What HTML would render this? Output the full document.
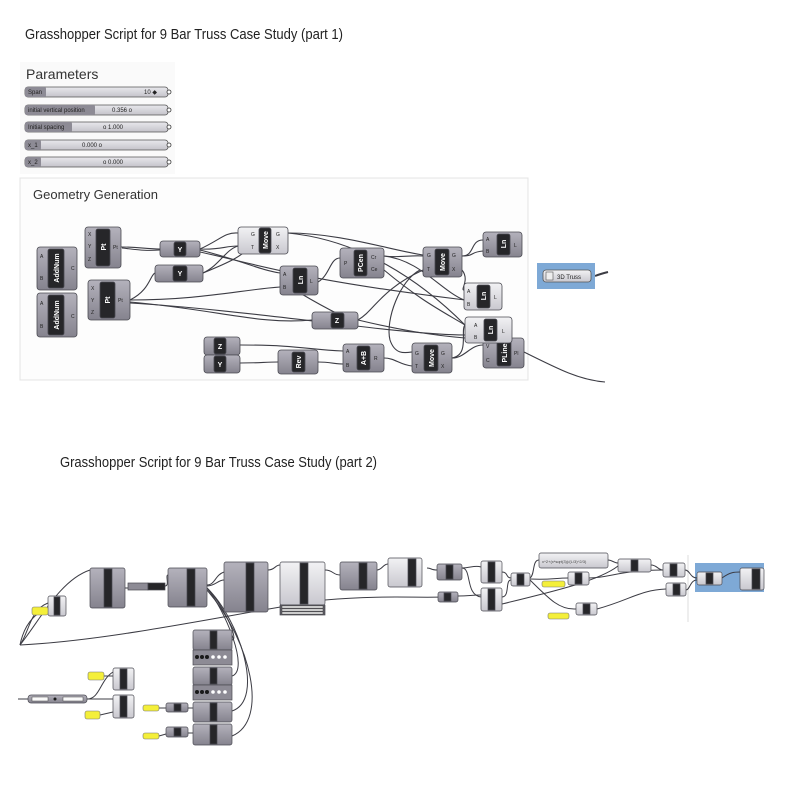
<!DOCTYPE html>
<html><head><meta charset="utf-8"><style>
html,body{margin:0;padding:0;background:#fff;}
svg{display:block;font-family:"Liberation Sans",sans-serif;}
</style></head><body>
<svg width="800" height="800" viewBox="0 0 800 800" xmlns="http://www.w3.org/2000/svg">
<defs>
<linearGradient id="ng" x1="0" y1="0" x2="0" y2="1"><stop offset="0" stop-color="#b4b2bc"/><stop offset="1" stop-color="#85838e"/></linearGradient>
<linearGradient id="lg" x1="0" y1="0" x2="0" y2="1"><stop offset="0" stop-color="#f2f2f4"/><stop offset="1" stop-color="#c9c8cf"/></linearGradient>
<linearGradient id="sg" x1="0" y1="0" x2="0" y2="1"><stop offset="0" stop-color="#e8e8ec"/><stop offset="1" stop-color="#c4c3ca"/></linearGradient>
</defs>

<!-- Titles -->
<text x="25" y="39" font-size="15" textLength="318" lengthAdjust="spacingAndGlyphs" fill="#222">Grasshopper Script for 9 Bar Truss Case Study (part 1)</text>
<text x="60" y="467" font-size="15" textLength="317" lengthAdjust="spacingAndGlyphs" fill="#222">Grasshopper Script for 9 Bar Truss Case Study (part 2)</text>

<!-- Parameters -->
<rect x="20" y="62" width="155" height="112" fill="#fafafa"/>
<text x="26" y="79" font-size="14" fill="#333">Parameters</text>
<g font-size="6" fill="#222">
<rect x="25" y="87" width="143" height="10" rx="3" fill="url(#sg)" stroke="#555" stroke-width="0.8"/><rect x="25" y="87" width="21" height="10" rx="2" fill="#8d8b95"/><text x="28" y="94">Span</text><text x="144" y="94">10 ◆</text>
<rect x="25" y="105" width="143" height="10" rx="3" fill="url(#sg)" stroke="#555" stroke-width="0.8"/><rect x="25" y="105" width="70" height="10" rx="2" fill="#8d8b95"/><text x="28" y="112">initial vertical position</text><text x="112" y="112">0.356 o</text>
<rect x="25" y="122" width="143" height="10" rx="3" fill="url(#sg)" stroke="#555" stroke-width="0.8"/><rect x="25" y="122" width="47" height="10" rx="2" fill="#8d8b95"/><text x="28" y="129">Initial spacing</text><text x="103" y="129">o 1.000</text>
<rect x="25" y="140" width="143" height="10" rx="3" fill="url(#sg)" stroke="#555" stroke-width="0.8"/><rect x="25" y="140" width="16" height="10" rx="2" fill="#8d8b95"/><text x="28" y="147">x_1</text><text x="82" y="147">0.000 o</text>
<rect x="25" y="157" width="143" height="10" rx="3" fill="url(#sg)" stroke="#555" stroke-width="0.8"/><rect x="25" y="157" width="16" height="10" rx="2" fill="#8d8b95"/><text x="28" y="164">x_2</text><text x="103" y="164">o 0.000</text>
</g>
<g fill="#fff" stroke="#333" stroke-width="0.8"><circle cx="169" cy="92" r="2"/><circle cx="169" cy="110" r="2"/><circle cx="169" cy="127" r="2"/><circle cx="169" cy="145" r="2"/><circle cx="169" cy="162" r="2"/></g>

<!-- Geometry panel -->
<rect x="20" y="178" width="508" height="202" fill="#fdfdfd" stroke="#e4e4e4"/>
<text x="33" y="199" font-size="13" fill="#333">Geometry Generation</text>

<!-- wires part 1 -->
<g fill="none" stroke="#3c3c44" stroke-width="1.1">
<path d="M121 247 C140 247,145 249,160 249"/>
<path d="M122 248 C140 250,145 251,160 250"/>
<path d="M200 249 C220 240,225 232,238 233"/>
<path d="M200 249 C220 250,225 246,238 246"/>
<path d="M130 300 C150 290,150 275,155 273"/>
<path d="M130 300 C200 300,240 290,280 287"/>
<path d="M130 302 C220 310,260 325,312 320"/>
<path d="M130 303 C250 310,400 335,465 335"/>
<path d="M200 250 C240 260,260 270,280 273"/>
<path d="M200 252 C260 265,300 280,465 300"/>
<path d="M203 273 C220 265,225 250,238 246"/>
<path d="M203 273 C230 262,245 255,250 245"/>
<path d="M288 233 C340 233,390 250,423 255"/>
<path d="M288 233 C360 240,420 280,465 325"/>
<path d="M318 282 C330 275,330 258,340 258"/>
<path d="M300 293 C320 305,330 310,340 315"/>
<path d="M358 320 C375 310,380 290,423 270"/>
<path d="M358 320 C400 330,430 335,465 338"/>
<path d="M384 256 C400 258,410 255,423 256"/>
<path d="M384 256 C420 260,440 290,464 300"/>
<path d="M384 270 C420 300,440 310,465 325"/>
<path d="M462 256 C475 256,470 240,483 240"/>
<path d="M462 256 C475 256,470 252,483 251"/>
<path d="M462 270 C470 280,460 290,464 290"/>
<path d="M420 270 C400 280,385 320,390 340 C395 355,405 353,412 352"/>
<path d="M240 345 C300 345,310 350,343 351"/>
<path d="M240 363 C260 363,265 362,278 362"/>
<path d="M318 362 C330 362,335 364,343 364"/>
<path d="M384 358 C395 358,400 365,412 366"/>
<path d="M452 358 C465 358,470 345,483 345"/>
<path d="M452 358 C470 355,460 330,465 325"/>
<path d="M524 352 C560 370,580 380,605 382"/>
<path d="M595 276 C600 274,604 273,608 272" stroke-width="2"/>
</g>

<!-- node helper style rendering -->
<g stroke="#4a4a52" stroke-width="0.8">
<!-- AddNum -->
<rect x="37" y="247" width="40" height="43" rx="3" fill="url(#ng)"/><rect x="48" y="249" width="16" height="39" rx="2" fill="#262629"/>
<rect x="37" y="293" width="40" height="44" rx="3" fill="url(#ng)"/><rect x="48" y="295" width="16" height="40" rx="2" fill="#262629"/>
<!-- Pt -->
<rect x="85" y="227" width="36" height="41" rx="3" fill="url(#ng)"/><rect x="96" y="229" width="14" height="37" rx="2" fill="#262629"/>
<rect x="88" y="280" width="42" height="40" rx="3" fill="url(#ng)"/><rect x="100" y="282" width="15" height="36" rx="2" fill="#262629"/>
<!-- Y -->
<rect x="160" y="241" width="40" height="16" rx="3" fill="url(#ng)"/><rect x="174" y="242" width="12" height="14" rx="2" fill="#262629"/>
<rect x="155" y="265" width="48" height="17" rx="3" fill="url(#ng)"/><rect x="173" y="266" width="14" height="15" rx="2" fill="#262629"/>
<!-- Move1 light -->
<rect x="238" y="227" width="50" height="27" rx="3" fill="url(#lg)"/><rect x="259" y="228" width="12" height="25" rx="2" fill="#262629"/>
<!-- Ln1 -->
<rect x="280" y="266" width="38" height="29" rx="3" fill="url(#ng)"/><rect x="293" y="268" width="14" height="25" rx="2" fill="#262629"/>
<!-- PCen -->
<rect x="340" y="248" width="44" height="30" rx="3" fill="url(#ng)"/><rect x="354" y="250" width="13" height="26" rx="2" fill="#262629"/>
<!-- Z mid -->
<rect x="312" y="312" width="46" height="17" rx="3" fill="url(#ng)"/><rect x="331" y="313" width="13" height="15" rx="2" fill="#262629"/>
<!-- Move2 -->
<rect x="423" y="247" width="39" height="30" rx="3" fill="url(#ng)"/><rect x="435" y="249" width="14" height="26" rx="2" fill="#262629"/>
<!-- Ln TR -->
<rect x="483" y="232" width="39" height="25" rx="3" fill="url(#ng)"/><rect x="497" y="234" width="13" height="21" rx="2" fill="#262629"/>
<!-- Ln mid light -->
<rect x="464" y="283" width="38" height="27" rx="3" fill="url(#lg)"/><rect x="477" y="285" width="13" height="23" rx="2" fill="#262629"/>
<!-- PLine -->
<rect x="483" y="338" width="41" height="30" rx="3" fill="url(#ng)"/><rect x="497" y="340" width="14" height="26" rx="2" fill="#262629"/>
<!-- Ln lower light -->
<rect x="465" y="317" width="47" height="26" rx="3" fill="url(#lg)"/><rect x="484" y="319" width="13" height="22" rx="2" fill="#262629"/>
<!-- Z/Y small -->
<rect x="204" y="337" width="36" height="18" rx="3" fill="url(#ng)"/><rect x="214" y="338" width="12" height="16" rx="2" fill="#262629"/>
<rect x="204" y="355" width="36" height="18" rx="3" fill="url(#ng)"/><rect x="214" y="356" width="12" height="16" rx="2" fill="#262629"/>
<!-- Rev -->
<rect x="278" y="350" width="40" height="24" rx="3" fill="url(#ng)"/><rect x="292" y="352" width="13" height="20" rx="2" fill="#262629"/>
<!-- A+B -->
<rect x="343" y="344" width="41" height="28" rx="3" fill="url(#ng)"/><rect x="357" y="346" width="13" height="24" rx="2" fill="#262629"/>
<!-- Move3 -->
<rect x="412" y="343" width="40" height="30" rx="3" fill="url(#ng)"/><rect x="424" y="345" width="14" height="26" rx="2" fill="#262629"/>
</g>
<g fill="#fff" font-size="7" font-weight="bold" text-anchor="middle">
<text transform="translate(59,268) rotate(-90)">AddNum</text>
<text transform="translate(59,315) rotate(-90)">AddNum</text>
<text transform="translate(106,247) rotate(-90)">Pt</text>
<text transform="translate(110,300) rotate(-90)">Pt</text>
<text x="180" y="252">Y</text><text x="180" y="276">Y</text>
<text transform="translate(268,240) rotate(-90)">Move</text>
<text transform="translate(303,280) rotate(-90)">Ln</text>
<text transform="translate(363,263) rotate(-90)">PCen</text>
<text x="337" y="323">Z</text>
<text transform="translate(445,262) rotate(-90)">Move</text>
<text transform="translate(506,244) rotate(-90)">Ln</text>
<text transform="translate(486,296) rotate(-90)">Ln</text>
<text transform="translate(493,330) rotate(-90)">Ln</text>
<text transform="translate(507,353) rotate(-90)">PLine</text>
<text x="220" y="349">Z</text><text x="220" y="367">Y</text>
<text transform="translate(301,362) rotate(-90)">Rev</text>
<text transform="translate(366,358) rotate(-90)">A+B</text>
<text transform="translate(434,358) rotate(-90)">Move</text>
</g>
<g fill="#222" font-size="5">
<text x="40" y="258">A</text><text x="40" y="280">B</text><text x="71" y="270">C</text>
<text x="40" y="305">A</text><text x="40" y="328">B</text><text x="71" y="318">C</text>
<text x="88" y="236">X</text><text x="88" y="248">Y</text><text x="88" y="261">Z</text><text x="113" y="249">Pt</text>
<text x="91" y="290">X</text><text x="91" y="302">Y</text><text x="91" y="314">Z</text><text x="118" y="302">Pt</text>
<text x="251" y="236">G</text><text x="251" y="249">T</text><text x="276" y="236">G</text><text x="276" y="249">X</text>
<text x="283" y="276">A</text><text x="283" y="289">B</text><text x="310" y="283">L</text>
<text x="344" y="265">P</text><text x="371" y="259">Cr</text><text x="371" y="271">Ce</text>
<text x="427" y="257">G</text><text x="427" y="271">T</text><text x="452" y="257">G</text><text x="452" y="271">X</text>
<text x="486" y="241">A</text><text x="486" y="253">B</text><text x="514" y="247">L</text>
<text x="467" y="293">A</text><text x="467" y="306">B</text><text x="494" y="299">L</text>
<text x="474" y="327">A</text><text x="474" y="339">B</text><text x="502" y="333">L</text>
<text x="486" y="348">V</text><text x="486" y="362">C</text><text x="514" y="355">Pl</text>
<text x="346" y="353">A</text><text x="346" y="367">B</text><text x="374" y="360">R</text>
<text x="415" y="355">G</text><text x="415" y="368">T</text><text x="441" y="355">G</text><text x="441" y="368">X</text>
</g>

<!-- 3D Truss -->
<rect x="537" y="263" width="58" height="26" fill="#7ea9d6"/>
<rect x="543" y="270" width="48" height="12" rx="3" fill="url(#lg)" stroke="#555" stroke-width="0.8"/>
<rect x="546" y="272" width="7" height="8" fill="#eee" stroke="#555" stroke-width="0.6"/>
<text x="557" y="279" font-size="6" fill="#222">3D Truss</text>

<!-- ============ PART 2 ============ -->
<line x1="688" y1="555" x2="688" y2="622" stroke="#ddd"/>
<rect x="695" y="563" width="69" height="29" fill="#7ea9d6"/>
<g fill="none" stroke="#3c3c44" stroke-width="1">
<path d="M20 645 C30 630,30 610,48 603"/>
<path d="M20 645 C25 620,40 610,48 610"/>
<path d="M20 645 C40 620,60 580,90 570"/>
<path d="M20 645 C120 640,250 610,325 600 C380 595,420 598,440 597"/>
<path d="M125 588 L128 588"/>
<path d="M165 586 C170 586,165 575,168 575"/>
<path d="M207 585 C215 585,215 575,224 572"/>
<path d="M207 586 C215 586,218 580,224 580"/>
<path d="M207 588 C220 600,240 640,232 640"/>
<path d="M207 588 C225 610,250 670,232 676"/>
<path d="M207 588 C240 620,265 700,232 711"/>
<path d="M207 590 C250 640,270 720,232 736"/>
<path d="M268 570 C275 570,275 565,280 565"/>
<path d="M325 570 C333 570,333 575,340 575"/>
<path d="M377 570 C382 570,383 564,388 564"/>
<path d="M427 568 C432 568,430 570,437 570"/>
<path d="M462 568 C470 568,475 565,481 567"/>
<path d="M462 568 C472 568,465 595,481 597"/>
<path d="M458 596 C470 596,470 595,481 595"/>
<path d="M502 572 C508 572,506 578,511 578"/>
<path d="M502 597 C510 597,505 580,511 580"/>
<path d="M530 578 C535 575,532 560,539 560"/>
<path d="M530 579 C550 580,555 578,568 578"/>
<path d="M530 580 C550 600,560 610,576 609"/>
<path d="M502 604 C560 590,600 580,618 566"/>
<path d="M589 578 C610 578,620 570,663 570"/>
<path d="M608 560 C612 560,614 563,618 563"/>
<path d="M651 565 C657 565,658 570,663 570"/>
<path d="M597 609 C630 600,640 590,666 589"/>
<path d="M685 570 C690 570,690 578,697 578"/>
<path d="M686 590 C690 590,690 580,697 580"/>
<path d="M722 578 C730 572,735 572,740 572"/>
<path d="M87 699 C100 699,100 680,113 672"/>
<path d="M87 699 C100 699,105 699,113 699"/>
<path d="M18 699 L28 699"/>
<path d="M104 676 L113 676"/>
<path d="M100 715 L113 712"/>
<path d="M159 708 L166 708"/>
<path d="M188 708 L193 708"/>
<path d="M159 736 L166 734"/>
<path d="M188 733 L193 733"/>
</g>
<g stroke="#4a4a52" stroke-width="0.7">
<rect x="48" y="596" width="18" height="20" rx="2" fill="url(#lg)"/><rect x="54" y="597" width="6" height="18" fill="#262629"/>
<rect x="90" y="568" width="35" height="40" rx="2" fill="url(#ng)"/><rect x="104" y="569" width="8" height="38" fill="#262629"/>
<rect x="128" y="583" width="20" height="7" fill="#8d8b95"/><rect x="148" y="583" width="17" height="7" fill="#262629"/>
<rect x="168" y="568" width="39" height="39" rx="2" fill="url(#ng)"/><rect x="187" y="569" width="8" height="37" fill="#262629"/>
<rect x="224" y="562" width="44" height="50" rx="2" fill="url(#ng)"/><rect x="246" y="563" width="8" height="48" fill="#262629"/>
<rect x="280" y="562" width="45" height="43" rx="2" fill="url(#lg)"/><rect x="300" y="563" width="8" height="41" fill="#262629"/>
<rect x="280" y="605" width="45" height="10" fill="#5c5b63"/>
<rect x="340" y="562" width="37" height="28" rx="2" fill="url(#ng)"/><rect x="359" y="563" width="8" height="26" fill="#262629"/>
<rect x="388" y="558" width="34" height="29" rx="2" fill="url(#lg)"/><rect x="408" y="559" width="8" height="27" fill="#262629"/>
<rect x="437" y="564" width="25" height="16" rx="2" fill="url(#ng)"/><rect x="446" y="565" width="7" height="14" fill="#262629"/>
<rect x="481" y="561" width="21" height="22" rx="2" fill="url(#lg)"/><rect x="488" y="562" width="7" height="20" fill="#262629"/>
<rect x="481" y="588" width="21" height="23" rx="2" fill="url(#lg)"/><rect x="488" y="589" width="7" height="21" fill="#262629"/>
<rect x="438" y="592" width="20" height="10" rx="2" fill="url(#ng)"/><rect x="444" y="593" width="7" height="8" fill="#262629"/>
<rect x="511" y="573" width="19" height="13" rx="2" fill="url(#lg)"/><rect x="517" y="574" width="7" height="11" fill="#262629"/>
<rect x="539" y="553" width="69" height="15" rx="2" fill="url(#lg)"/>
<rect x="568" y="572" width="21" height="13" rx="2" fill="url(#lg)"/><rect x="575" y="573" width="7" height="11" fill="#262629"/>
<rect x="576" y="603" width="21" height="12" rx="2" fill="url(#lg)"/><rect x="583" y="604" width="7" height="10" fill="#262629"/>
<rect x="618" y="559" width="33" height="13" rx="2" fill="url(#lg)"/><rect x="631" y="560" width="7" height="11" fill="#262629"/>
<rect x="663" y="563" width="22" height="14" rx="2" fill="url(#lg)"/><rect x="670" y="564" width="7" height="12" fill="#262629"/>
<rect x="666" y="583" width="20" height="13" rx="2" fill="url(#lg)"/><rect x="673" y="584" width="7" height="11" fill="#262629"/>
<rect x="697" y="572" width="25" height="13" rx="2" fill="url(#lg)"/><rect x="706" y="573" width="7" height="11" fill="#262629"/>
<rect x="740" y="568" width="24" height="22" rx="2" fill="url(#lg)"/><rect x="752" y="569" width="8" height="20" fill="#262629"/>
<!-- lower stack -->
<rect x="193" y="630" width="39" height="20" rx="2" fill="url(#ng)"/><rect x="210" y="631" width="7" height="18" fill="#262629"/>
<rect x="193" y="650" width="39" height="15" fill="#8d8b95"/>
<rect x="193" y="667" width="39" height="18" rx="2" fill="url(#ng)"/><rect x="210" y="668" width="7" height="16" fill="#262629"/>
<rect x="193" y="685" width="39" height="15" fill="#8d8b95"/>
<rect x="193" y="702" width="39" height="20" rx="2" fill="url(#ng)"/><rect x="210" y="703" width="7" height="18" fill="#262629"/>
<rect x="193" y="724" width="39" height="21" rx="2" fill="url(#ng)"/><rect x="210" y="725" width="7" height="19" fill="#262629"/>
<rect x="166" y="703" width="22" height="9" rx="2" fill="url(#ng)"/><rect x="174" y="704" width="7" height="7" fill="#262629"/>
<rect x="166" y="727" width="22" height="10" rx="2" fill="url(#ng)"/><rect x="174" y="728" width="7" height="8" fill="#262629"/>
<rect x="113" y="668" width="21" height="22" rx="2" fill="url(#lg)"/><rect x="120" y="669" width="7" height="20" fill="#262629"/>
<rect x="113" y="695" width="21" height="23" rx="2" fill="url(#lg)"/><rect x="120" y="696" width="7" height="21" fill="#262629"/>
<rect x="28" y="695" width="59" height="8" rx="3" fill="url(#ng)"/>
</g>
<g fill="#1a1a1a"><circle cx="197" cy="657" r="2"/><circle cx="202" cy="657" r="2"/><circle cx="207" cy="657" r="2"/><circle cx="197" cy="692" r="2"/><circle cx="202" cy="692" r="2"/><circle cx="207" cy="692" r="2"/><circle cx="55" cy="699" r="1.5"/></g>
<g fill="#fff"><circle cx="213" cy="657" r="1.8"/><circle cx="219" cy="657" r="1.8"/><circle cx="225" cy="657" r="1.8"/><circle cx="213" cy="692" r="1.8"/><circle cx="219" cy="692" r="1.8"/><circle cx="225" cy="692" r="1.8"/></g>
<g fill="#fafafa" stroke="#444" stroke-width="0.5"><rect x="282" y="606" width="41" height="2"/><rect x="282" y="609" width="41" height="2"/><rect x="282" y="612" width="41" height="2"/><rect x="32" y="697" width="16" height="4"/><rect x="63" y="697" width="20" height="4"/></g>
<g fill="#f4ef3a" stroke="#777" stroke-width="0.6">
<rect x="32" y="607" width="16" height="8" rx="2"/>
<rect x="542" y="581" width="23" height="6" rx="2"/>
<rect x="548" y="613" width="21" height="6" rx="2"/>
<rect x="88" y="672" width="16" height="8" rx="2"/>
<rect x="85" y="711" width="15" height="8" rx="2"/>
<rect x="143" y="705" width="16" height="6" rx="2"/>
<rect x="143" y="733" width="16" height="6" rx="2"/>
</g>
<text x="542" y="563" font-size="4" fill="#444">x^2+(x*sqrt(3))/(L/3)^2/3)</text>
</svg>
</body></html>
